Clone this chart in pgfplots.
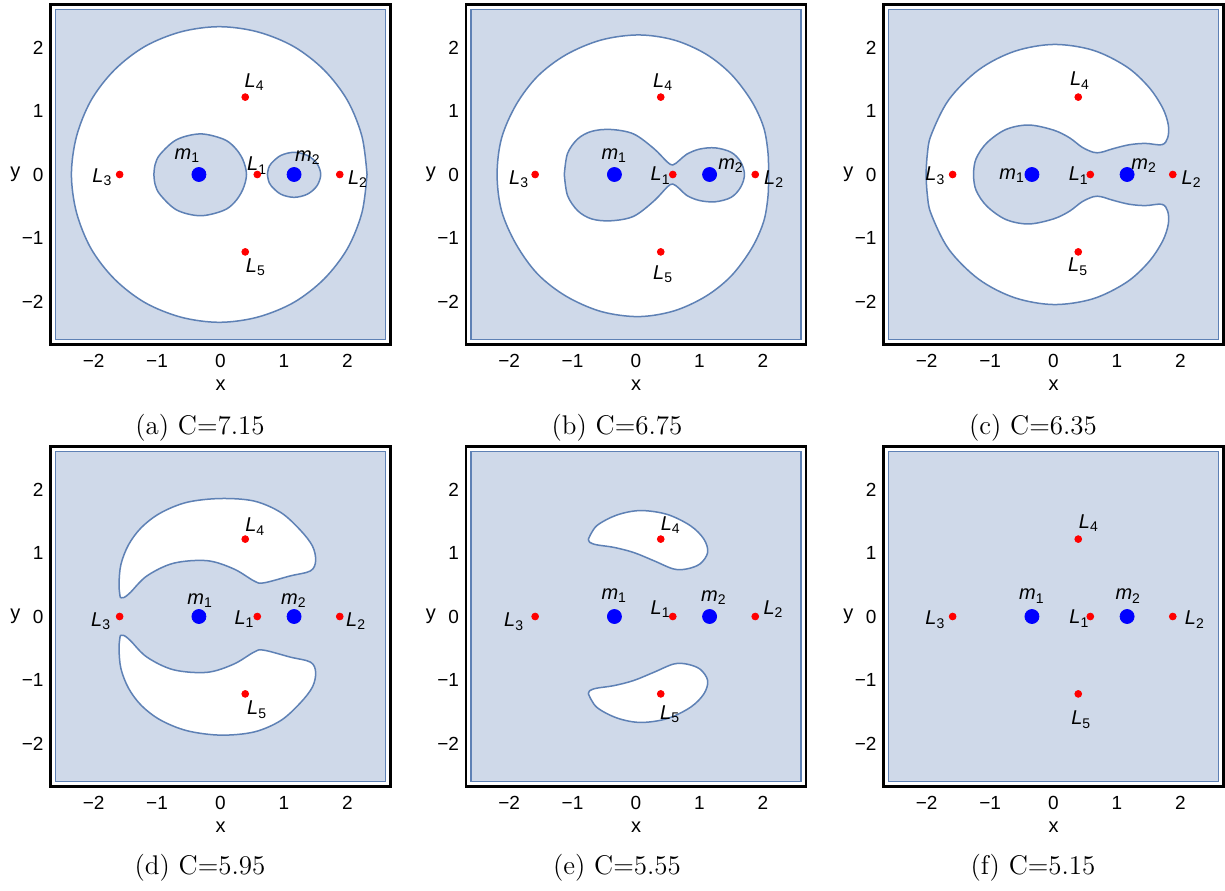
\documentclass[border=0pt]{standalone}
\usepackage{fontspec}
\usepackage{pgfplots}
\pgfplotsset{compat=1.18}
\newfontfamily\arial{Liberation Sans}
\definecolor{regfill}{RGB}{207,217,233}
\definecolor{regline}{RGB}{94,129,181}
\newcommand\lab[2]{{\arial\fontsize{10}{12}\selectfont\itshape #1}\raisebox{-0.4ex}{\arial\fontsize{7}{8}\selectfont #2}}
\pgfplotsset{
 panel/.style={
  scale only axis, width=170pt, height=170pt,
  xmin=-2.68,xmax=2.68,ymin=-2.68,ymax=2.68,
  xtick={-2,-1,0,1,2}, ytick={-2,-1,0,1,2},
  xticklabels={−2,−1,0,1,2}, yticklabels={−2,−1,0,1,2},
  major tick length=0pt, tick style={draw=none},
  ticklabel style={font=\arial\fontsize{9.5}{11}\selectfont},
  xticklabel style={yshift=-1.2pt},
  axis line style={line width=1.1pt},
  xlabel={x}, ylabel={y},
  every axis x label/.style={at={(axis description cs:0.5,0)}, anchor=center, yshift=-20.5pt, font=\arial\fontsize{10}{12}\selectfont},
  every axis y label/.style={at={(axis description cs:0,0.5)}, anchor=center, xshift=-17.6pt, font=\arial\fontsize{10}{12}\selectfont},
 },
 rect/.style={fill=regfill, draw=regline, line width=0.7pt, mark=none},
 region/.style={fill=regfill, draw=regline, line width=0.75pt, smooth, tension=0.55, mark=none},
 hole/.style={fill=white, draw=regline, line width=0.75pt, smooth, tension=0.55, mark=none},
 Lpt/.style={only marks, mark=*, mark size=1.7pt, color=red},
 mpt/.style={only marks, mark=*, mark size=3.5pt, color=blue},
}
\newcommand\bg{\addplot[rect] coordinates {(-2.6,-2.6) (2.6,-2.6) (2.6,2.6) (-2.6,2.6) (-2.6,-2.6)} -- cycle;}
\newcommand\pts{%
 \addplot[Lpt] coordinates {(0.58,0) (1.88,0) (-1.59,0) (0.39,1.22) (0.39,-1.22)};
 \addplot[mpt] coordinates {(-0.34,0) (1.16,0)};}
\newcommand\subcap[2]{\node[font=\fontsize{13.5}{16}\selectfont] at (#1) {#2};}
\begin{document}
\begin{tikzpicture}
\path[use as bounding box] (0,0) rectangle (612.5pt,445pt);
% (a)
\begin{axis}[panel, at={(25.25pt,442.75pt)}, anchor=north west]
\bg
\addplot[hole] coordinates {(2.31,0) (2.23,0.60) (2.00,1.17) (1.63,1.65) (1.15,2.02) (0.58,2.25) (-0.02,2.33) (-0.62,2.25) (-1.19,2.02) (-1.67,1.65) (-2.04,1.17) (-2.27,0.60) (-2.35,0) (-2.27,-0.60) (-2.04,-1.17) (-1.67,-1.65) (-1.19,-2.02) (-0.62,-2.25) (-0.02,-2.33) (0.58,-2.25) (1.15,-2.02) (1.63,-1.65) (2.00,-1.17) (2.23,-0.60) (2.31,0)};
\addplot[region] coordinates {(-1.05,0) (-1.03,0.16) (-0.95,0.32) (-0.69,0.55) (-0.32,0.64) (0.04,0.56) (0.22,0.43) (0.35,0.24) (0.41,0) (0.35,-0.24) (0.22,-0.44) (0.04,-0.57) (-0.32,-0.65) (-0.69,-0.56) (-0.95,-0.32) (-1.03,-0.16) (-1.05,0)};
\addplot[region] coordinates {(0.74,0) (0.755,0.09) (0.80,0.175) (0.95,0.30) (1.16,0.35) (1.37,0.30) (1.52,0.175) (1.58,0) (1.52,-0.18) (1.37,-0.31) (1.16,-0.36) (0.95,-0.31) (0.80,-0.18) (0.755,-0.09) (0.74,0)};
\pts
\node at (axis cs:-0.53,0.30) {\lab{m}{1}};
\node at (axis cs:1.37,0.27) {\lab{m}{2}};
\node at (axis cs:0.57,0.14) {\lab{L}{1}};
\node at (axis cs:2.16,-0.07) {\lab{L}{2}};
\node at (axis cs:-1.87,-0.04) {\lab{L}{3}};
\node at (axis cs:0.53,1.46) {\lab{L}{4}};
\node at (axis cs:0.55,-1.46) {\lab{L}{5}};
\end{axis}
% (b)
\begin{axis}[panel, at={(233pt,442.75pt)}, anchor=north west]
\bg
\addplot[hole] coordinates {(2.09,0) (2.08,0.35) (2.01,0.75) (1.82,1.16) (1.50,1.58) (1.10,1.90) (0.60,2.12) (0.04,2.20) (-0.55,2.12) (-1.10,1.89) (-1.55,1.55) (-1.89,1.10) (-2.12,0.57) (-2.19,0) (-2.12,-0.57) (-1.89,-1.10) (-1.55,-1.57) (-1.10,-1.92) (-0.55,-2.16) (0.04,-2.24) (0.60,-2.15) (1.10,-1.92) (1.50,-1.60) (1.82,-1.17) (2.01,-0.75) (2.08,-0.35) (2.09,0)};
\addplot[region] coordinates {(-1.13,0) (-1.08,0.33) (-0.92,0.56) (-0.70,0.68) (-0.40,0.71) (-0.04,0.64) (0.28,0.41) (0.49,0.20) (0.58,0.15) (0.68,0.22) (0.80,0.32) (1.00,0.40) (1.25,0.42) (1.50,0.35) (1.65,0.20) (1.71,0) (1.65,-0.20) (1.50,-0.36) (1.25,-0.43) (1.00,-0.41) (0.80,-0.33) (0.68,-0.22) (0.58,-0.15) (0.49,-0.20) (0.28,-0.42) (-0.04,-0.66) (-0.40,-0.73) (-0.70,-0.70) (-0.92,-0.57) (-1.08,-0.33) (-1.13,0)};
\pts
\node at (axis cs:-0.35,0.30) {\lab{m}{1}};
\node at (axis cs:1.49,0.14) {\lab{m}{2}};
\node at (axis cs:0.38,-0.02) {\lab{L}{1}};
\node at (axis cs:2.17,-0.07) {\lab{L}{2}};
\node at (axis cs:-1.85,-0.07) {\lab{L}{3}};
\node at (axis cs:0.42,1.46) {\lab{L}{4}};
\node at (axis cs:0.42,-1.57) {\lab{L}{5}};
\end{axis}
% (c)
\begin{axis}[panel, at={(441.75pt,442.75pt)}, anchor=north west]
\bg
\addplot[hole] coordinates {(-2.01,0) (-1.99,0.31) (-1.93,0.62) (-1.65,1.18) (-1.18,1.65) (-0.62,1.94) (0,2.05) (0.62,1.96) (1.15,1.70) (1.50,1.38) (1.72,1.05) (1.81,0.78) (1.80,0.58) (1.71,0.47) (1.45,0.49) (1.20,0.47) (0.95,0.41) (0.75,0.35) (0.63,0.35) (0.45,0.43) (0.25,0.58) (0.0,0.70) (-0.39,0.78) (-0.75,0.71) (-1.05,0.50) (-1.22,0.25) (-1.26,0) (-1.22,-0.25) (-1.05,-0.50) (-0.75,-0.71) (-0.39,-0.78) (0.0,-0.70) (0.25,-0.58) (0.45,-0.43) (0.63,-0.35) (0.75,-0.35) (0.95,-0.41) (1.20,-0.47) (1.45,-0.49) (1.71,-0.47) (1.80,-0.58) (1.81,-0.78) (1.72,-1.05) (1.50,-1.38) (1.15,-1.70) (0.62,-1.96) (0,-2.05) (-0.62,-1.94) (-1.18,-1.65) (-1.65,-1.18) (-1.93,-0.62) (-1.99,-0.31) (-2.01,0)};
\pts
\node at (axis cs:-0.66,-0.02) {\lab{m}{1}};
\node at (axis cs:1.42,0.14) {\lab{m}{2}};
\node at (axis cs:0.39,-0.02) {\lab{L}{1}};
\node at (axis cs:2.17,-0.07) {\lab{L}{2}};
\node at (axis cs:-1.87,-0.02) {\lab{L}{3}};
\node at (axis cs:0.41,1.48) {\lab{L}{4}};
\node at (axis cs:0.38,-1.45) {\lab{L}{5}};
\end{axis}
% (d)
\begin{axis}[panel, at={(25.25pt,221.75pt)}, anchor=north west]
\bg
\addplot[hole] coordinates {(-1.58,0.30) (-1.60,0.50) (-1.57,0.82) (-1.45,1.13) (-1.25,1.40) (-0.95,1.63) (-0.53,1.80) (0,1.86) (0.53,1.82) (0.95,1.64) (1.26,1.36) (1.45,1.11) (1.50,0.88) (1.42,0.72) (1.10,0.64) (0.68,0.53) (0.53,0.56) (0.21,0.75) (-0.21,0.88) (-0.74,0.84) (-1.16,0.64) (-1.42,0.38) (-1.52,0.30) (-1.58,0.30)};
\addplot[hole] coordinates {(-1.58,-0.30) (-1.60,-0.50) (-1.57,-0.82) (-1.45,-1.13) (-1.25,-1.40) (-0.95,-1.63) (-0.53,-1.80) (0,-1.87) (0.53,-1.82) (0.95,-1.64) (1.26,-1.36) (1.45,-1.11) (1.50,-0.88) (1.42,-0.72) (1.10,-0.64) (0.68,-0.53) (0.53,-0.56) (0.21,-0.75) (-0.21,-0.88) (-0.74,-0.84) (-1.16,-0.64) (-1.42,-0.38) (-1.52,-0.30) (-1.58,-0.30)};
\pts
\node at (axis cs:-0.33,0.25) {\lab{m}{1}};
\node at (axis cs:1.15,0.25) {\lab{m}{2}};
\node at (axis cs:0.37,-0.04) {\lab{L}{1}};
\node at (axis cs:2.13,-0.07) {\lab{L}{2}};
\node at (axis cs:-1.89,-0.07) {\lab{L}{3}};
\node at (axis cs:0.54,1.42) {\lab{L}{4}};
\node at (axis cs:0.57,-1.47) {\lab{L}{5}};
\end{axis}
% (e)
\begin{axis}[panel, at={(233pt,221.75pt)}, anchor=north west]
\bg
\addplot[hole] coordinates {(-0.75,1.22) (-0.62,1.43) (-0.30,1.60) (0.07,1.67) (0.49,1.61) (0.86,1.43) (1.07,1.22) (1.13,1.01) (1.01,0.83) (0.80,0.75) (0.59,0.75) (0.28,0.88) (-0.04,1.01) (-0.35,1.09) (-0.62,1.13) (-0.73,1.17) (-0.75,1.22)};
\addplot[hole] coordinates {(-0.75,-1.22) (-0.62,-1.43) (-0.30,-1.60) (0.07,-1.67) (0.49,-1.61) (0.86,-1.43) (1.07,-1.22) (1.13,-1.01) (1.01,-0.83) (0.80,-0.75) (0.59,-0.75) (0.28,-0.88) (-0.04,-1.01) (-0.35,-1.09) (-0.62,-1.13) (-0.73,-1.17) (-0.75,-1.22)};
\pts
\node at (axis cs:-0.35,0.33) {\lab{m}{1}};
\node at (axis cs:1.22,0.30) {\lab{m}{2}};
\node at (axis cs:0.38,0.12) {\lab{L}{1}};
\node at (axis cs:2.16,0.12) {\lab{L}{2}};
\node at (axis cs:-1.93,-0.08) {\lab{L}{3}};
\node at (axis cs:0.54,1.44) {\lab{L}{4}};
\node at (axis cs:0.53,-1.54) {\lab{L}{5}};
\end{axis}
% (f)
\begin{axis}[panel, at={(441.75pt,221.75pt)}, anchor=north west]
\bg
\pts
\node at (axis cs:-0.35,0.32) {\lab{m}{1}};
\node at (axis cs:1.17,0.32) {\lab{m}{2}};
\node at (axis cs:0.40,-0.03) {\lab{L}{1}};
\node at (axis cs:2.22,-0.05) {\lab{L}{2}};
\node at (axis cs:-1.87,-0.05) {\lab{L}{3}};
\node at (axis cs:0.55,1.47) {\lab{L}{4}};
\node at (axis cs:0.43,-1.63) {\lab{L}{5}};
\end{axis}
\subcap{100pt,231pt}{(a) C=7.15}
\subcap{308.5pt,231pt}{(b) C=6.75}
\subcap{516.5pt,231pt}{(c) C=6.35}
\subcap{100pt,11pt}{(d) C=5.95}
\subcap{308.5pt,11pt}{(e) C=5.55}
\subcap{516.5pt,11pt}{(f) C=5.15}
\end{tikzpicture}
\end{document}
